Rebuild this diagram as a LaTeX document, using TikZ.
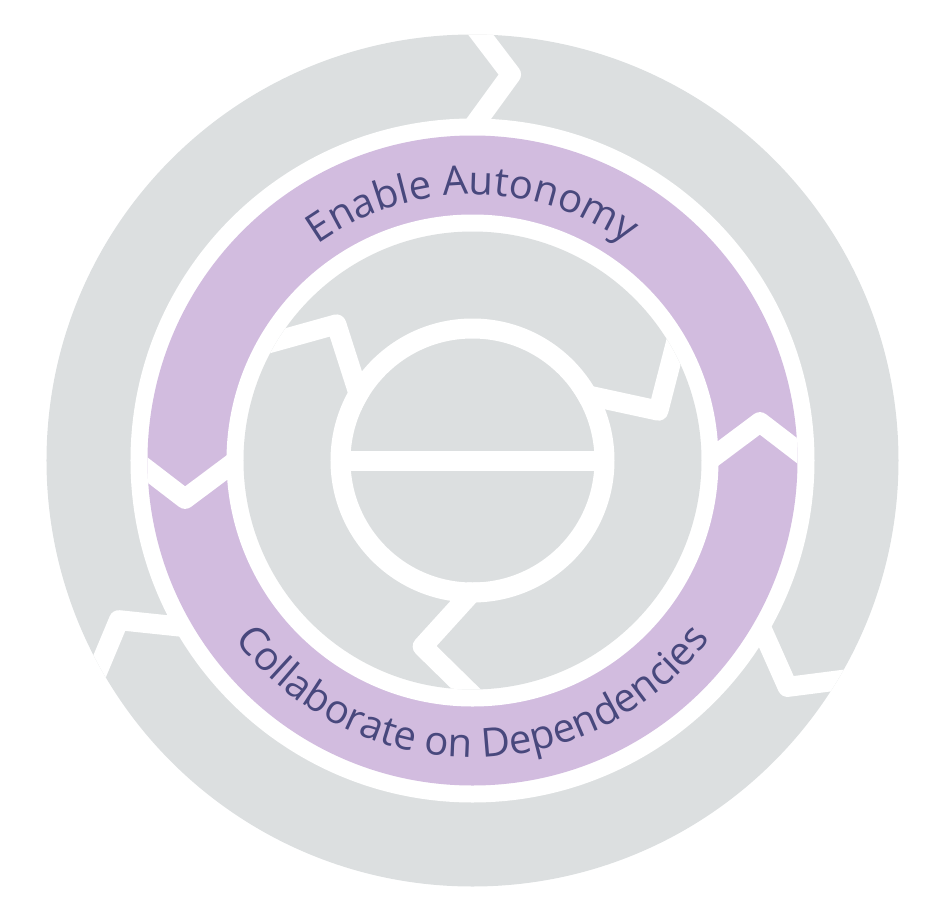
\documentclass[tikz,border=0pt]{standalone}
\usepackage{fontspec}
\setmainfont{Open Sans}
\usetikzlibrary{calc,decorations.text}
\definecolor{ringgray}{RGB}{220,223,224}
\definecolor{ringpurple}{RGB}{210,188,223}
\definecolor{labelblue}{RGB}{72,72,125}
\newcommand\ringlabelfont{\fontsize{40}{40}\selectfont}
\begin{document}
\begin{tikzpicture}[x=1pt,y=1pt,
  gap/.style={white,line width=20pt,line join=round},
  ringtext/.style={decorate,decoration={text along path,text align=center,text color=labelblue,text={|\ringlabelfont|#1}}}]
\useasboundingbox (-472.5,-453.5) rectangle (472.5,460.5);
% outer ring
\fill[ringgray] (0,0) circle (426);
\begin{scope}
  \clip (0,0) circle (426);
  \foreach \c in {84.3,-35.7,204.3}{
    \coordinate (K) at (\c:388);
    \coordinate (O) at ({\c+4.6}:426);
    \coordinate (I) at ({\c+4.5}:343);
    \draw[gap] ($(K)!1.5!(O)$) -- (K) -- ($(K)!1.5!(I)$);
  }
\end{scope}
\fill[white] (0,0) circle (342);
% purple ring
\fill[ringpurple] (0,0) circle (325);
\begin{scope}
  \clip (0,0) circle (325);
  \foreach \c/\e in {187.6/181.7,7.6/1.7}{
    \coordinate (K) at (\c:290);
    \coordinate (O) at (\e:325);
    \coordinate (I) at (\e:246);
    \draw[gap] ($(K)!1.5!(O)$) -- (K) -- ($(K)!1.5!(I)$);
  }
\end{scope}
\fill[white] (0,0) circle (246);
% inner gray ring
\fill[ringgray] (0,0) circle (229);
\begin{scope}
  \clip (0,0) circle (229);
  \foreach \c in {15,135,255}{
    \coordinate (K) at (\c:192.5);
    \coordinate (O) at ({\c+13.5}:229);
    \coordinate (I) at ({\c+13.5}:135);
    \draw[gap] ($(K)!1.5!(O)$) -- (K) -- ($(K)!1.3!(I)$);
  }
\end{scope}
% centre disk
\fill[ringgray] (0,0) circle (122);
\draw[white,line width=20pt] (0,0) circle (132);
\coordinate (hl) at (-132,0);
\coordinate (hr) at (132,0);
\draw[white,line width=20pt] (hl) -- (hr);
% labels
\path[ringtext={Enable Autonomy}] (160:266) arc[start angle=160,end angle=20,radius=266];
\path[ringtext={Collaborate on Dependencies}] (195:297) arc[start angle=195,end angle=345,radius=297];
\end{tikzpicture}
\end{document}
